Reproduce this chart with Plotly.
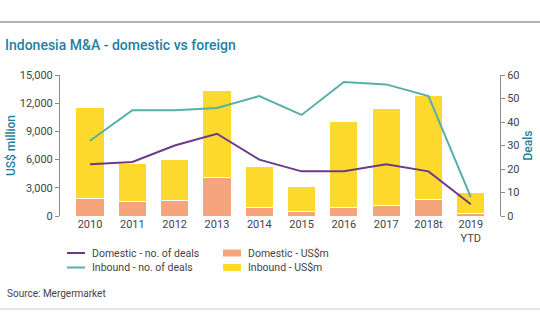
import plotly.graph_objects as go

years = ["2010", "2011", "2012", "2013", "2014", "2015", "2016", "2017", "2018t", "2019<br>YTD"]
domestic_usd = [1880, 1560, 1630, 4110, 880, 460, 880, 1100, 1730, 250]
total_usd = [11520, 5560, 5960, 13300, 5250, 3160, 10100, 11460, 12870, 2480]
inbound_usd = [t - d for t, d in zip(total_usd, domestic_usd)]
domestic_deals = [22, 23, 30, 35, 24, 19, 19, 22, 19, 5]
inbound_deals = [32, 45, 45, 46, 51, 43, 57, 56, 51, 8]

FONT = "Roboto"
TXT = "#444444"
TEAL_T = "#1f7fa3"
C_DOM_BAR = "#f5a47c"
C_INB_BAR = "#fdd82d"
C_INB_LINE = "#56afa9"
C_DOM_LINE = "#6d3a8a"
W, H = 540, 334
L, R, T, B = 60, 40, 75, 118
PW, PH = W - L - R, H - T - B


def px(xp):
    return (xp - L) / PW


def py(yp):
    return (H - B - yp) / PH


fig = go.Figure()
fig.add_trace(go.Bar(x=years, y=domestic_usd, name="Domestic - US$m",
                     marker=dict(color=C_DOM_BAR, line=dict(color="white", width=1))))
fig.add_trace(go.Bar(x=years, y=inbound_usd, name="Inbound - US$m",
                     marker=dict(color=C_INB_BAR, line=dict(color="white", width=1))))
fig.add_trace(go.Scatter(x=years, y=inbound_deals, name="Inbound - no. of deals", yaxis="y2",
                         mode="lines", line=dict(color=C_INB_LINE, width=2)))
fig.add_trace(go.Scatter(x=years, y=domestic_deals, name="Domestic - no. of deals", yaxis="y2",
                         mode="lines", line=dict(color=C_DOM_LINE, width=2)))

# legend entries: (label, kind, colour, symbol-x px, row y px)
legend_items = [
    ("Domestic - no. of deals", "line", C_DOM_LINE, 67, 253),
    ("Inbound - no. of deals", "line", C_INB_LINE, 67, 267.5),
    ("Domestic - US$m", "rect", C_DOM_BAR, 223, 253),
    ("Inbound - US$m", "rect", C_INB_BAR, 223, 267.5),
]

shapes = [
    dict(type="line", xref="paper", yref="paper", x0=px(0), x1=px(W), y0=py(22), y1=py(22),
         line=dict(color="#9a9a9a", width=1.5)),
    dict(type="line", xref="paper", yref="paper", x0=px(0), x1=px(W), y0=py(309), y1=py(309),
         line=dict(color="#cccccc", width=1)),
]
annotations = [
    dict(text="Source: Mergermarket", xref="paper", yref="paper",
         x=px(5), y=py(293), xanchor="left", yanchor="middle",
         showarrow=False, font=dict(family=FONT, size=10, color=TXT)),
]
for label, kind, col, sx, ry in legend_items:
    if kind == "line":
        shapes.append(dict(type="line", xref="paper", yref="paper", x0=px(sx), x1=px(sx + 18),
                           y0=py(ry), y1=py(ry), line=dict(color=col, width=2)))
    else:
        shapes.append(dict(type="rect", xref="paper", yref="paper", x0=px(sx), x1=px(sx + 18),
                           y0=py(ry - 3.5), y1=py(ry + 3.5), line=dict(width=0), fillcolor=col))
    annotations.append(dict(text=label, xref="paper", yref="paper", x=px(sx + 23), y=py(ry),
                            xanchor="left", yanchor="middle", showarrow=False,
                            font=dict(family=FONT, size=10.5, color=TXT)))

fig.update_layout(
    width=W, height=H,
    margin=dict(l=L, r=R, t=T, b=B, autoexpand=False),
    paper_bgcolor="white", plot_bgcolor="white",
    barmode="stack", bargap=0.335,
    font=dict(family=FONT, size=11, color=TXT),
    showlegend=False,
    title=dict(text="Indonesia M&A - domestic vs foreign", xref="container", yref="container",
               x=5 / W, y=1 - 45 / H, xanchor="left", yanchor="middle",
               font=dict(family=FONT, size=14, color=TEAL_T, weight=500)),
    xaxis=dict(type="category", range=[-0.71, 9.69], showline=False, ticks="", automargin=False,
               tickfont=dict(family=FONT, size=11, color=TXT), showgrid=False),
    yaxis=dict(range=[0, 15000], dtick=3000, tickformat=",d", showgrid=False, zeroline=False,
               showline=True, linecolor="#8a8a8a", linewidth=1, ticks="outside", ticklen=4,
               tickcolor="#8a8a8a", tickfont=dict(family=FONT, size=11, color=TXT), automargin=False,
               title=dict(text="US$ million", font=dict(family=FONT, size=12, color=TEAL_T, weight=500),
                          standoff=1)),
    yaxis2=dict(range=[0, 60], dtick=10, overlaying="y", side="right", showgrid=False, zeroline=False,
                showline=True, linecolor="#8a8a8a", linewidth=1, ticks="outside", ticklen=4,
                tickcolor="#8a8a8a", tickfont=dict(family=FONT, size=11, color=TXT), automargin=False,
                title=dict(text="Deals", font=dict(family=FONT, size=12, color=TEAL_T, weight=500),
                           standoff=5)),
    shapes=shapes,
    annotations=annotations,
)

fig.write_html("out.html")
